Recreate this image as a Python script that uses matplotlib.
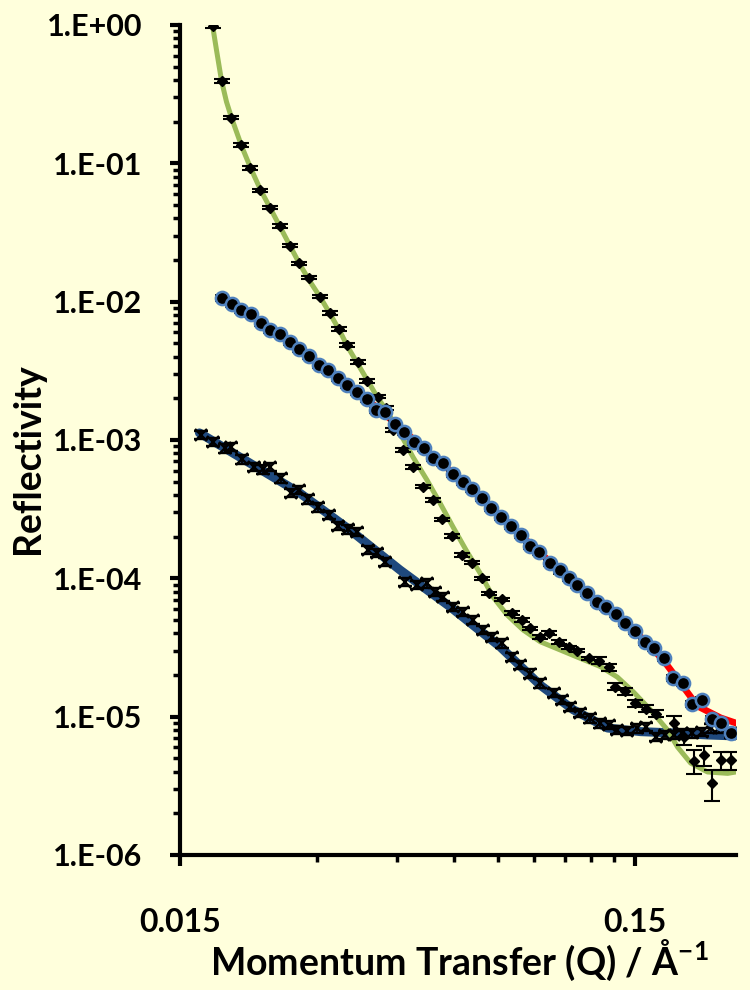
import matplotlib
matplotlib.use("Agg")
import matplotlib.pyplot as plt
from matplotlib.ticker import FixedLocator, LogLocator, FuncFormatter, NullFormatter
import numpy as np

plt.rcParams['font.family'] = ['Lato', 'DejaVu Sans']
plt.rcParams['mathtext.fontset'] = 'custom'
plt.rcParams['mathtext.rm'] = 'Lato'
plt.rcParams['mathtext.bf'] = 'Lato:bold'

# --- data ---
# sample 1: black diamonds with error bars, green fit
green_q = [0.0177, 0.01853, 0.01944, 0.02044, 0.02141, 0.02247, 0.02365, 0.02487, 0.02613, 0.02735,
           0.02876, 0.03053, 0.03211, 0.03349, 0.03494, 0.03683, 0.03867, 0.04089, 0.04258, 0.04411,
           0.04641, 0.04883, 0.05136, 0.05387, 0.0564, 0.05933, 0.06242, 0.06566, 0.06908, 0.07179,
           0.07645, 0.08043, 0.08461, 0.08825, 0.09284, 0.09683, 0.1019, 0.1072, 0.1118, 0.1186,
           0.1247, 0.1313, 0.1358, 0.1429, 0.1503, 0.1582, 0.1664, 0.1825, 0.192, 0.2021,
           0.2122, 0.2218, 0.2321, 0.2443]
green_r = [0.988, 0.392, 0.214, 0.136, 0.0921, 0.0638, 0.0478, 0.0352, 0.0254, 0.0189,
           0.0149, 0.01086, 0.00824, 0.00634, 0.00486, 0.00368, 0.00268, 0.00206, 0.0017, 0.00118,
           0.000847, 0.000635, 0.00046, 0.000368, 0.000267, 0.000202, 0.000147, 0.00013, 0.0001, 7.79e-5,
           7.05e-5, 5.59e-5, 5.0e-5, 4.35e-5, 3.78e-5, 4.04e-5, 3.48e-5, 3.17e-5, 3.0e-5, 2.64e-5,
           2.54e-5, 2.28e-5, 1.65e-5, 1.52e-5, 1.25e-5, 1.14e-5, 1.05e-5, 8.95e-6, 7.13e-6, 4.78e-6,
           5.28e-6, 3.29e-6, 4.86e-6, 4.86e-6]
green_err_frac = [0.03] * 40 + [0.06, 0.06, 0.06, 0.06, 0.06, 0.06, 0.06,
                                0.12, 0.12, 0.2, 0.17, 0.25, 0.15, 0.15]

green_fit_q = [0.01768, 0.01804, 0.01851, 0.01898, 0.01947, 0.02048, 0.02144, 0.02255, 0.02373, 0.02496,
               0.02626, 0.02748, 0.02891, 0.03057, 0.03216, 0.03367, 0.03506, 0.03689, 0.0388, 0.04082,
               0.04273, 0.04564, 0.04876, 0.05233, 0.05591, 0.05972, 0.06379, 0.06848, 0.07314, 0.07853,
               0.08516, 0.09284, 0.1028, 0.1137, 0.1259, 0.1372, 0.1487, 0.1622, 0.1768, 0.186,
               0.1987, 0.2165, 0.2397, 0.2522]
green_fit_r = [1.0, 0.66, 0.394, 0.278, 0.213, 0.1335, 0.0925, 0.0642, 0.0468, 0.0341,
               0.0248, 0.0187, 0.0141, 0.01063, 0.00801, 0.00614, 0.0047, 0.00354, 0.00267, 0.00201,
               0.00162, 0.001124, 0.000753, 0.000514, 0.00035, 0.000235, 0.00016, 0.000109, 7.32e-5, 5.43e-5,
               4.23e-5, 3.48e-5, 3.03e-5, 2.64e-5, 2.3e-5, 1.93e-5, 1.51e-5, 1.12e-5, 8.01e-6, 6.03e-6,
               4.62e-6, 3.98e-6, 3.89e-6, 4.0e-6]

# sample 2: black circles, red fit
red_q = [0.01857, 0.01954, 0.02044, 0.02152, 0.02255, 0.02369, 0.02492, 0.02613, 0.02739, 0.02876,
         0.03026, 0.03173, 0.03338, 0.03501, 0.03665, 0.03855, 0.04041, 0.04236, 0.0445, 0.04664,
         0.04908, 0.05162, 0.05404, 0.05668, 0.05963, 0.06273, 0.06566, 0.06908, 0.07229, 0.07606,
         0.08015, 0.08417, 0.08825, 0.09236, 0.09732, 0.1024, 0.1072, 0.1118, 0.1176, 0.1237,
         0.1298, 0.1365, 0.1429, 0.1503, 0.1576, 0.1655, 0.1735, 0.1816, 0.191, 0.2004,
         0.2101, 0.221, 0.2313, 0.2434]
red_r = [0.01068, 0.00962, 0.0087, 0.0081, 0.00705, 0.00624, 0.00581, 0.00514, 0.00453, 0.00405,
         0.00348, 0.00321, 0.00282, 0.0025, 0.00223, 0.00198, 0.00165, 0.00158, 0.0013, 0.00115,
         0.000972, 0.00088, 0.000745, 0.000678, 0.000568, 0.000499, 0.00044, 0.000383, 0.000321, 0.000276,
         0.000239, 0.000206, 0.000171, 0.000156, 0.00013, 0.000114, 0.0001, 8.94e-5, 7.87e-5, 6.78e-5,
         6.23e-5, 5.52e-5, 4.78e-5, 4.16e-5, 3.48e-5, 3.12e-5, 2.64e-5, 1.89e-5, 1.74e-5, 1.24e-5,
         1.32e-5, 9.6e-6, 8.95e-6, 7.58e-6]
red_err_frac = 0.05

red_fit_q = [0.01851, 0.02244, 0.02748, 0.03367, 0.04124, 0.05051, 0.06188, 0.07579, 0.09284,
             0.1137, 0.1393, 0.1622, 0.175, 0.1888, 0.2059, 0.2313, 0.2535]
red_fit_r = [0.01068, 0.00713, 0.00455, 0.00281, 0.00165, 0.00092, 0.000522, 0.000282, 0.000152,
             8.51e-5, 5.16e-5, 3.24e-5, 2.44e-5, 1.75e-5, 1.19e-5, 9.8e-6, 8.85e-6]

# sample 3: crosses with error bars, dark blue fit
blue_q = [0.01669, 0.0177, 0.01879, 0.01944, 0.02055, 0.02177, 0.02282, 0.02361, 0.02504, 0.02635,
          0.02739, 0.02866, 0.03015, 0.03189, 0.03338, 0.03512, 0.03665, 0.03886, 0.04056, 0.0423,
          0.04681, 0.04968, 0.05226, 0.05451, 0.05685, 0.05981, 0.06293, 0.06619, 0.06964, 0.07266,
          0.07645, 0.08043, 0.08388, 0.08825, 0.09284, 0.09932, 0.1037, 0.1081, 0.1137, 0.1196,
          0.1259, 0.1313, 0.137, 0.1441, 0.1516, 0.1582, 0.1664, 0.175, 0.1825, 0.1904,
          0.2004, 0.2108, 0.2199, 0.2294, 0.2434]
blue_r = [0.001087, 0.000972, 0.000871, 0.000894, 0.000725, 0.000641, 0.000614, 0.000641, 0.000528, 0.000416,
          0.000435, 0.000373, 0.000326, 0.000287, 0.000239, 0.000226, 0.000217, 0.00016, 0.000153, 0.000132,
          9.45e-5, 8.94e-5, 9.2e-5, 8.0e-5, 7.36e-5, 6.23e-5, 5.74e-5, 5.0e-5, 4.23e-5, 3.78e-5,
          3.39e-5, 2.71e-5, 2.36e-5, 2.05e-5, 1.74e-5, 1.48e-5, 1.32e-5, 1.18e-5, 1.06e-5, 9.75e-6,
          8.95e-6, 8.7e-6, 8.01e-6, 7.92e-6, 8.24e-6, 8.46e-6, 7.17e-6, 7.37e-6, 7.37e-6, 7.58e-6,
          7.58e-6, 7.79e-6, 8.24e-6, 8.24e-6, 7.58e-6]
blue_err_frac = 0.07

blue_fit_q = [0.01655, 0.02133, 0.02748, 0.03542, 0.04564, 0.05882, 0.07579, 0.09284, 0.1098,
              0.1304, 0.1542, 0.1822, 0.2165, 0.2509]
blue_fit_r = [0.001124, 0.000682, 0.000414, 0.000224, 0.000115, 6.23e-5, 3.2e-5, 1.69e-5, 1.12e-5,
              8.28e-6, 7.79e-6, 7.62e-6, 7.37e-6, 7.25e-6]

x_major = [0.015, 0.15]
x_major_labels = ['0.015', '0.15']
x_minor = [0.03, 0.045, 0.06, 0.075, 0.09, 0.105, 0.12, 0.135]

bg = '#FFFFDC'
fig = plt.figure(figsize=(7.5, 9.9), dpi=100, facecolor=bg)
ax = fig.add_axes([0.24, 0.1364, 0.7413, 0.8384], facecolor=bg)
ax.set_xscale('log')
ax.set_yscale('log')

# fits
ax.plot(blue_fit_q, blue_fit_r, color='#1F497D', lw=6.5, solid_capstyle='round', zorder=2)
ax.plot(red_fit_q, red_fit_r, color='#FF0000', lw=4.8, solid_capstyle='round', zorder=2.1)
ax.plot(green_fit_q, green_fit_r, color='#9BBB59', lw=3.6, solid_capstyle='round', zorder=2.2)

# data with error bars
g_err = np.array(green_r) * np.array(green_err_frac)
ax.errorbar(green_q, green_r, yerr=g_err, fmt='D', ms=5, color='black', mfc='black', mec='black',
            ecolor='black', elinewidth=1.5, capsize=6, capthick=1.5, zorder=4)
ax.errorbar(blue_q, blue_r, yerr=np.array(blue_r) * blue_err_frac, fmt='x', ms=8, mew=1.7,
            color='black', ecolor='black', elinewidth=1.3, capsize=5, capthick=1.3, zorder=4)
ax.errorbar(red_q, red_r, yerr=np.array(red_r) * red_err_frac, fmt='none',
            ecolor='black', elinewidth=1.3, capsize=5, capthick=1.3, zorder=4)
ax.plot(red_q, red_r, 'o', ms=9.5, mfc='black', mec='#4F81BD', mew=1.8, zorder=5)

ax.set_xlim(0.015, 0.25)
ax.set_ylim(1e-6, 1)

# axes styling
for s in ['top', 'right']:
    ax.spines[s].set_visible(False)
for s in ['left', 'bottom']:
    ax.spines[s].set_linewidth(3)
    ax.spines[s].set_color('black')

ax.xaxis.set_major_locator(FixedLocator(x_major))
ax.xaxis.set_major_formatter(FuncFormatter(lambda v, p: x_major_labels[x_major.index(v)] if v in x_major else ''))
ax.xaxis.set_minor_locator(FixedLocator(x_minor))
ax.xaxis.set_minor_formatter(NullFormatter())

ax.yaxis.set_major_locator(LogLocator(base=10, numticks=10))
ax.yaxis.set_minor_locator(LogLocator(base=10, subs=np.arange(2, 10), numticks=20))
ax.yaxis.set_major_formatter(FuncFormatter(lambda v, p: '1.E%+03d' % int(round(np.log10(v)))))
ax.yaxis.set_minor_formatter(NullFormatter())

ax.tick_params(axis='x', which='major', direction='out', length=8, width=3, pad=30,
               labelsize=23)
ax.tick_params(axis='x', which='minor', direction='out', length=5, width=2.5)
ax.tick_params(axis='y', which='major', direction='out', length=7, width=3, pad=20,
               labelsize=22)
ax.tick_params(axis='y', which='minor', direction='out', length=5, width=2.5)
for lab in ax.get_xticklabels() + ax.get_yticklabels():
    lab.set_fontweight('bold')

fig.text(0.612, 0.03, r'Momentum Transfer (Q) / Å$^{\mathbf{-1}}$', ha='center', va='center',
         fontsize=27, fontweight='bold')
fig.text(0.038, 0.537, 'Reflectivity', rotation=90, ha='center', va='center',
         fontsize=27, fontweight='bold')

fig.savefig('out.png', dpi=100, facecolor=bg)
